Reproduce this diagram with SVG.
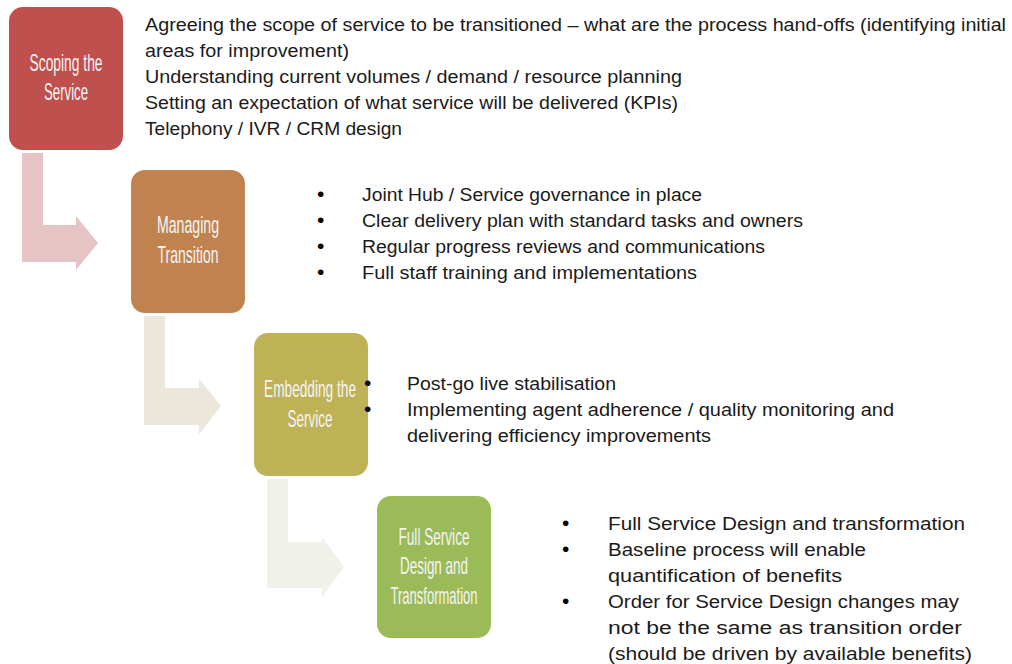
<svg xmlns="http://www.w3.org/2000/svg" width="1012" height="664" viewBox="0 0 1012 664">
<style>
.box{stroke:none}
.lbl{font-family:"Liberation Sans",Arial,sans-serif;font-size:23px;fill:#F4F4F4;text-anchor:middle}
.t{font-family:"Liberation Sans",Arial,sans-serif;font-size:17.5px;fill:#1a1a1a}
.b{font-family:"Liberation Sans",Arial,sans-serif;font-size:21px;fill:#000}
</style>
<rect width="1012" height="664" fill="#ffffff"/>
<g id="connectors">
<path d="M22,153 H43 V225 H76 V216 L98,243 L76,270 V262 H22 Z" fill="#E6C3C4"/>
<path d="M144,316 H165 V388 H199 V379 L221,406 L199,434 V425 H144 Z" fill="#ECE6DB"/>
<path d="M267,479 H288 V542 H322 V537 L344,567 L322,597 V588 H267 Z" fill="#F0F2E9"/>
</g>
<g id="node-scoping">
<rect class="box" x="9" y="7" width="114" height="143" rx="14" fill="#C0504D"/>
<text class="lbl" transform="translate(66,71) scale(0.65,1)" textLength="112.3" lengthAdjust="spacingAndGlyphs">Scoping the</text>
<text class="lbl" transform="translate(66,100) scale(0.65,1)" textLength="67.7" lengthAdjust="spacingAndGlyphs">Service</text>
</g>
<g id="node-managing">
<rect class="box" x="131" y="170" width="114" height="143" rx="14" fill="#C0834F"/>
<text class="lbl" transform="translate(188,233) scale(0.65,1)" textLength="95.4" lengthAdjust="spacingAndGlyphs">Managing</text>
<text class="lbl" transform="translate(188,263) scale(0.65,1)" textLength="93.8" lengthAdjust="spacingAndGlyphs">Transition</text>
</g>
<g id="node-embedding">
<rect class="box" x="254" y="333" width="114" height="143" rx="14" fill="#BFB256"/>
<text class="lbl" transform="translate(310,397) scale(0.65,1)" textLength="141.5" lengthAdjust="spacingAndGlyphs">Embedding the</text>
<text class="lbl" transform="translate(310,427) scale(0.65,1)" textLength="69.2" lengthAdjust="spacingAndGlyphs">Service</text>
</g>
<g id="node-full">
<rect class="box" x="377" y="496" width="114" height="142" rx="14" fill="#9BBB59"/>
<text class="lbl" transform="translate(434,545) scale(0.65,1)" textLength="109.2" lengthAdjust="spacingAndGlyphs">Full Service</text>
<text class="lbl" transform="translate(434,574) scale(0.65,1)" textLength="104.6" lengthAdjust="spacingAndGlyphs">Design and</text>
<text class="lbl" transform="translate(434,604) scale(0.65,1)" textLength="133.8" lengthAdjust="spacingAndGlyphs">Transformation</text>
</g>
<g id="text-scoping">
<text class="t" x="145" y="31" textLength="861" lengthAdjust="spacingAndGlyphs">Agreeing the scope of service to be transitioned – what are the process hand-offs (identifying initial</text>
<text class="t" x="145" y="57" textLength="204" lengthAdjust="spacingAndGlyphs">areas for improvement)</text>
<text class="t" x="145" y="83" textLength="537" lengthAdjust="spacingAndGlyphs">Understanding current volumes / demand / resource planning</text>
<text class="t" x="145" y="109" textLength="533" lengthAdjust="spacingAndGlyphs">Setting an expectation of what service will be delivered (KPIs)</text>
<text class="t" x="145" y="135" textLength="257" lengthAdjust="spacingAndGlyphs">Telephony / IVR / CRM design</text>
</g>
<g id="text-managing">
<text class="b" x="317" y="201">•</text>
<text class="b" x="317" y="227">•</text>
<text class="b" x="317" y="253">•</text>
<text class="b" x="317" y="279">•</text>
<text class="t" x="362" y="201" textLength="340" lengthAdjust="spacingAndGlyphs">Joint Hub / Service governance in place</text>
<text class="t" x="362" y="227" textLength="441" lengthAdjust="spacingAndGlyphs">Clear delivery plan with standard tasks and owners</text>
<text class="t" x="362" y="253" textLength="403" lengthAdjust="spacingAndGlyphs">Regular progress reviews and communications</text>
<text class="t" x="362" y="279" textLength="335" lengthAdjust="spacingAndGlyphs">Full staff training and implementations</text>
</g>
<g id="text-embedding">
<text class="b" x="364" y="390">•</text>
<text class="b" x="364" y="416">•</text>
<text class="t" x="407" y="390" textLength="209" lengthAdjust="spacingAndGlyphs">Post-go live stabilisation</text>
<text class="t" x="407" y="416" textLength="487" lengthAdjust="spacingAndGlyphs">Implementing agent adherence / quality monitoring and</text>
<text class="t" x="407" y="442" textLength="304" lengthAdjust="spacingAndGlyphs">delivering efficiency improvements</text>
</g>
<g id="text-full">
<text class="b" x="562" y="530">•</text>
<text class="b" x="562" y="556">•</text>
<text class="b" x="562" y="608">•</text>
<text class="t" x="608" y="530" textLength="357" lengthAdjust="spacingAndGlyphs">Full Service Design and transformation</text>
<text class="t" x="608" y="556" textLength="258" lengthAdjust="spacingAndGlyphs">Baseline process will enable</text>
<text class="t" x="608" y="582" textLength="234" lengthAdjust="spacingAndGlyphs">quantification of benefits</text>
<text class="t" x="608" y="608" textLength="351" lengthAdjust="spacingAndGlyphs">Order for Service Design changes may</text>
<text class="t" x="608" y="634" textLength="354" lengthAdjust="spacingAndGlyphs">not be the same as transition order</text>
<text class="t" x="608" y="660" textLength="364" lengthAdjust="spacingAndGlyphs">(should be driven by available benefits)</text>
</g>
</svg>
